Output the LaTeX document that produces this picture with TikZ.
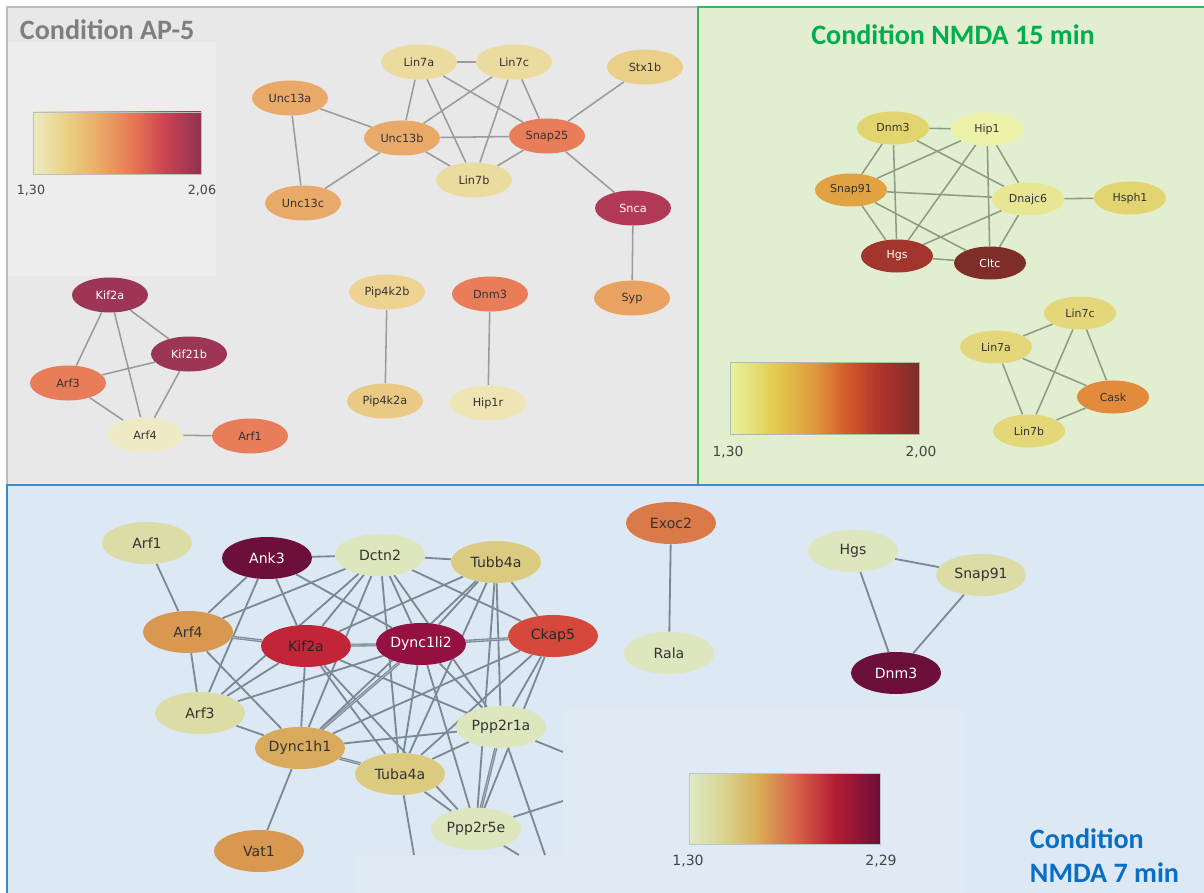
\documentclass[tikz,border=0pt]{standalone}
\usepackage{fontspec}
\setmainfont{DejaVu Sans}
\newfontfamily\titlefont{Carlito}
\usepackage{xcolor}
\usetikzlibrary{shapes.geometric}

% panel colours
\definecolor{apbg}{HTML}{E8E8E8}
\definecolor{apleg}{HTML}{EDEDED}
\definecolor{apframe}{HTML}{BDBDBD}
\definecolor{aptitle}{HTML}{7F7F7F}
\definecolor{apline}{HTML}{9B9B9B}
\definecolor{nfbg}{HTML}{E1EFD0}
\definecolor{nfframe}{HTML}{3DB35A}
\definecolor{nftitle}{HTML}{00AE4E}
\definecolor{nfline}{HTML}{8E9C84}
\definecolor{nsbg}{HTML}{DCE8F3}
\definecolor{nsleg}{HTML}{DFEAF4}
\definecolor{nsframe}{HTML}{3C89CC}
\definecolor{nstitle}{HTML}{0A6FC2}
\definecolor{nsline}{HTML}{7A8A95}
\definecolor{txtdark}{HTML}{333333}
\definecolor{txtlabel}{HTML}{444444}

% node colours
\definecolor{apPale}{HTML}{EEEAC6}
\definecolor{apHip}{HTML}{EFE4B3}
\definecolor{apLin}{HTML}{ECDB9F}
\definecolor{apStx}{HTML}{E9CF88}
\definecolor{apPipB}{HTML}{EDD292}
\definecolor{apPipA}{HTML}{E9C984}
\definecolor{apUnc}{HTML}{E9A968}
\definecolor{apSyp}{HTML}{E9A262}
\definecolor{apSalmon}{HTML}{E97C59}
\definecolor{apRose}{HTML}{B23A56}
\definecolor{apWine}{HTML}{9C3654}
\definecolor{nfYel}{HTML}{E2D46F}
\definecolor{nfLin}{HTML}{E3D77A}
\definecolor{nfHip}{HTML}{ECF2A7}
\definecolor{nfDna}{HTML}{E7E793}
\definecolor{nfSnap}{HTML}{E1A243}
\definecolor{nfCask}{HTML}{E38B3C}
\definecolor{nfHgs}{HTML}{A3352F}
\definecolor{nfCltc}{HTML}{7E2D29}
\definecolor{nsPale}{HTML}{DEE6BD}
\definecolor{nsCream}{HTML}{DCDCA7}
\definecolor{nsSand}{HTML}{DBCB80}
\definecolor{nsGold}{HTML}{D9AA5B}
\definecolor{nsOrange}{HTML}{D99850}
\definecolor{nsCoral}{HTML}{DB7A49}
\definecolor{nsRed}{HTML}{D5483B}
\definecolor{nsCrimson}{HTML}{C22538}
\definecolor{nsMaroon}{HTML}{941141}
\definecolor{nsPlum}{HTML}{6C0F3A}

% colour scales
\definecolor{apA}{HTML}{EDEBC3}\definecolor{apB}{HTML}{E8D185}\definecolor{apC}{HTML}{E9A966}
\definecolor{apD}{HTML}{E77553}\definecolor{apE}{HTML}{CC4452}\definecolor{apF}{HTML}{8E3252}
\definecolor{nfA}{HTML}{E8F2A4}\definecolor{nfB}{HTML}{E2CF52}\definecolor{nfC}{HTML}{E09A3C}
\definecolor{nfD}{HTML}{D35A2C}\definecolor{nfE}{HTML}{B0332A}\definecolor{nfF}{HTML}{7B2E2B}
\definecolor{nsA}{HTML}{DEE9C6}\definecolor{nsB}{HTML}{D9D392}\definecolor{nsC}{HTML}{D9AE57}
\definecolor{nsD}{HTML}{D9634A}\definecolor{nsE}{HTML}{B51D33}\definecolor{nsF}{HTML}{6C0F3A}

\pgfdeclarelayer{panels}
\pgfdeclarelayer{edges}
\pgfsetlayers{panels,edges,main}

\tikzset{
  apnode/.style={ellipse, inner sep=0pt, minimum width=19mm, minimum height=8.75mm,
    font=\fontsize{8}{9}\selectfont, text=txtdark},
  nfnode/.style={ellipse, inner sep=0pt, minimum width=18mm, minimum height=8.25mm,
    font=\fontsize{7.8}{9}\selectfont, text=txtdark},
  nsnode/.style={ellipse, inner sep=0pt, minimum width=22.5mm, minimum height=10.5mm,
    font=\fontsize{10}{12}\selectfont, text=txtdark},
  apedge/.style={draw=apline, line width=1.1pt},
  nfedge/.style={draw=nfline, line width=1.1pt},
  nsedge/.style={draw=nsline, line width=1.3pt},
  nsdouble/.style={draw=nsline, line width=0.8pt, double=nsline!60, double distance=0.6pt},
  title/.style={font=\titlefont\bfseries\fontsize{20}{24.2}\selectfont},
  barframe/.style={rectangle, inner sep=0pt, line width=0.6pt},
  barlabel/.style={text=txtlabel, inner sep=0pt},
}

\begin{document}
\begin{tikzpicture}[x=0.025cm, y=-0.025cm, line cap=round, line join=round]
\useasboundingbox (0,0) rectangle (1204,893);

% Panels
\begin{pgfonlayer}{panels}
  \fill[white] (0,0) rectangle (1204,893);
  \draw[draw=apframe, fill=apbg, line width=0.8pt] (7,7) rectangle (698,485);
  \fill[apleg] (8,42) rectangle (216,276);
  \draw[draw=nfframe, fill=nfbg, line width=1pt] (698,7) rectangle (1212,485);
  \draw[draw=nsframe, fill=nsbg, line width=1.2pt] (7,485) rectangle (1212,900);
  \fill[nsleg] (355,855) -- (563,855) -- (563,710) -- (965,710) -- (965,893) -- (355,893) -- cycle;
\end{pgfonlayer}

% Condition AP-5
\node[title, anchor=west, text=aptitle] (apTitle) at (15,30) {Condition AP-5};
\foreach \c/\d/\xa/\xb in {apA/apB/33/66.6, apB/apC/66.6/100.2, apC/apD/100.2/133.8,
    apD/apE/133.8/164, apE/apF/164/201}
  \shade[left color=\c, right color=\d] (\xa,112) rectangle (\xb,174);
\node[barframe, draw=apframe, minimum width=42mm, minimum height=15.5mm] (apBar) at (117,143) {};
\node[barlabel, font=\fontsize{9}{10}\selectfont] (apLow) at (31,191) {1,30};
\node[barlabel, font=\fontsize{9}{10}\selectfont] (apHigh) at (202,191) {2,06};

\node[apnode, fill=apUnc] (apUnc13a) at (290,98) {Unc13a};
\node[apnode, fill=apLin] (apLin7a) at (419,62) {Lin7a};
\node[apnode, fill=apLin] (apLin7c) at (514,62) {Lin7c};
\node[apnode, fill=apStx] (apStx1b) at (645,67) {Stx1b};
\node[apnode, fill=apUnc] (apUnc13b) at (402,138) {Unc13b};
\node[apnode, fill=apSalmon] (apSnap25) at (547,136) {Snap25};
\node[apnode, fill=apLin] (apLin7b) at (474,180) {Lin7b};
\node[apnode, fill=apUnc] (apUnc13c) at (303,203) {Unc13c};
\node[apnode, fill=apRose, text=white] (apSnca) at (633,208) {Snca};
\node[apnode, fill=apSyp] (apSyp) at (632,298) {Syp};
\node[apnode, fill=apWine, text=white] (apKif2a) at (110,295) {Kif2a};
\node[apnode, fill=apWine, text=white] (apKif21b) at (189,354) {Kif21b};
\node[apnode, fill=apSalmon] (apArf3) at (68,383) {Arf3};
\node[apnode, fill=apPale] (apArf4) at (145,435) {Arf4};
\node[apnode, fill=apSalmon] (apArf1) at (250,436) {Arf1};
\node[apnode, fill=apPipB] (apPip4k2b) at (387,292) {Pip4k2b};
\node[apnode, fill=apPipA] (apPip4k2a) at (385,401) {Pip4k2a};
\node[apnode, fill=apSalmon] (apDnm3) at (490,294) {Dnm3};
\node[apnode, fill=apHip] (apHip1r) at (488,403) {Hip1r};

\begin{pgfonlayer}{edges}
  \foreach \a/\b in {Lin7a/Lin7c, Lin7a/Unc13b, Lin7a/Lin7b, Lin7a/Snap25,
      Lin7c/Unc13b, Lin7c/Lin7b, Lin7c/Snap25, Unc13a/Unc13b, Unc13a/Unc13c,
      Unc13b/Unc13c, Unc13b/Snap25, Unc13b/Lin7b, Lin7b/Snap25, Snap25/Stx1b,
      Snap25/Snca, Snca/Syp, Kif2a/Kif21b, Kif2a/Arf3, Kif2a/Arf4, Kif21b/Arf3,
      Kif21b/Arf4, Arf3/Arf4, Arf4/Arf1, Pip4k2b/Pip4k2a, Dnm3/Hip1r}
    \draw[apedge] (ap\a) -- (ap\b);
\end{pgfonlayer}

% Condition NMDA 15 min
\node[title, text=nftitle] (nfTitle) at (953,35) {Condition NMDA 15 min};
\foreach \c/\d/\xa/\xb in {nfA/nfB/730/771.6, nfB/nfC/771.6/813.2, nfC/nfD/813.2/847.2,
    nfD/nfE/847.2/881.2, nfE/nfF/881.2/919}
  \shade[left color=\c, right color=\d] (\xa,362) rectangle (\xb,434);
\node[barframe, draw=nfline!70, minimum width=47.25mm, minimum height=18mm] (nfBar) at (824.5,398) {};
\node[barlabel, font=\fontsize{9.8}{11}\selectfont] (nfLow) at (728,452) {1,30};
\node[barlabel, font=\fontsize{9.8}{11}\selectfont] (nfHigh) at (921,452) {2,00};

\node[nfnode, fill=nfYel] (nfDnm3) at (893,128) {Dnm3};
\node[nfnode, fill=nfHip] (nfHip1) at (987,129) {Hip1};
\node[nfnode, fill=nfSnap] (nfSnap91) at (851,190) {Snap91};
\node[nfnode, fill=nfDna] (nfDnajc6) at (1028,199) {Dnajc6};
\node[nfnode, fill=nfYel] (nfHsph1) at (1130,198) {Hsph1};
\node[nfnode, fill=nfHgs, text=white] (nfHgs) at (897,256) {Hgs};
\node[nfnode, fill=nfCltc, text=white] (nfCltc) at (990,263) {Cltc};
\node[nfnode, fill=nfLin] (nfLin7c) at (1080,313) {Lin7c};
\node[nfnode, fill=nfLin] (nfLin7a) at (996,347) {Lin7a};
\node[nfnode, fill=nfCask] (nfCask) at (1113,397) {Cask};
\node[nfnode, fill=nfLin] (nfLin7b) at (1029,431) {Lin7b};

\begin{pgfonlayer}{edges}
  \foreach \a/\b in {Dnm3/Hip1, Dnm3/Snap91, Dnm3/Hgs, Dnm3/Dnajc6, Hip1/Snap91,
      Hip1/Hgs, Hip1/Cltc, Hip1/Dnajc6, Snap91/Dnajc6, Snap91/Hgs, Snap91/Cltc,
      Dnajc6/Hgs, Dnajc6/Cltc, Dnajc6/Hsph1, Hgs/Cltc, Lin7c/Lin7a, Lin7c/Lin7b,
      Lin7c/Cask, Lin7a/Lin7b, Lin7a/Cask, Cask/Lin7b}
    \draw[nfedge] (nf\a) -- (nf\b);
\end{pgfonlayer}

% Condition NMDA 7 min
\node[title, anchor=west, align=left, text=nstitle] (nsTitle) at (1025,856) {Condition\\NMDA 7 min};
\foreach \c/\d/\xa/\xb in {nsA/nsB/689/723.4, nsB/nsC/723.4/757.8, nsC/nsD/757.8/796,
    nsD/nsE/796/834.2, nsE/nsF/834.2/880}
  \shade[left color=\c, right color=\d] (\xa,773) rectangle (\xb,844);
\node[barframe, draw=nsline!50, minimum width=47.75mm, minimum height=17.75mm] (nsBar) at (784.5,808.5) {};
\node[barlabel, font=\fontsize{10}{12}\selectfont] (nsLow) at (688,861) {1,30};
\node[barlabel, font=\fontsize{10}{12}\selectfont] (nsHigh) at (881,861) {2,29};

\node[nsnode, fill=nsCream] (nsArf1) at (147,543) {Arf1};
\node[nsnode, fill=nsPlum, text=white] (nsAnk3) at (267,558) {Ank3};
\node[nsnode, fill=nsPale] (nsDctn2) at (380,555) {Dctn2};
\node[nsnode, fill=nsSand] (nsTubb4a) at (496,562) {Tubb4a};
\node[nsnode, fill=nsOrange] (nsArf4) at (188,632) {Arf4};
\node[nsnode, fill=nsCrimson, text=black!85] (nsKif2a) at (306,646) {Kif2a};
\node[nsnode, fill=nsMaroon, text=white] (nsDync1li2) at (421,644) {Dync1li2};
\node[nsnode, fill=nsRed, text=black!85] (nsCkap5) at (553,636) {Ckap5};
\node[nsnode, fill=nsCream] (nsArf3) at (200,713) {Arf3};
\node[nsnode, fill=nsGold] (nsDync1h1) at (300,748) {Dync1h1};
\node[nsnode, fill=nsPale] (nsPpp2r1a) at (501,727) {Ppp2r1a};
\node[nsnode, fill=nsSand] (nsTuba4a) at (400,774) {Tuba4a};
\node[nsnode, fill=nsPale] (nsPpp2r5e) at (476,829) {Ppp2r5e};
\node[nsnode, fill=nsOrange] (nsVat1) at (259,851) {Vat1};
\node[nsnode, fill=nsCoral] (nsExoc2) at (671,523) {Exoc2};
\node[nsnode, fill=nsPale] (nsRala) at (669,653) {Rala};
\node[nsnode, fill=nsPale] (nsHgs) at (853,551) {Hgs};
\node[nsnode, fill=nsCream] (nsSnap91) at (981,575) {Snap91};
\node[nsnode, fill=nsPlum, text=white] (nsDnm3) at (896,673) {Dnm3};

% edges leaving the cropped network
\coordinate (nsCutA) at (563,752);
\coordinate (nsCutB) at (563,801);
\coordinate (nsCutC) at (519,855);
\coordinate (nsCutD) at (414,855);
\coordinate (nsCutE) at (545,855);

\begin{pgfonlayer}{edges}
  \foreach \a/\b in {Arf1/Arf4, Ank3/Dctn2, Dctn2/Tubb4a, Ank3/Arf4, Ank3/Arf3,
      Ank3/Kif2a, Ank3/Dync1li2, Arf4/Arf3, Arf4/Dync1h1, Arf4/Dctn2, Kif2a/Arf3,
      Kif2a/Dync1h1, Kif2a/Tuba4a, Kif2a/Ppp2r1a, Kif2a/Ppp2r5e, Dync1li2/Arf3,
      Dync1li2/Tuba4a, Dync1li2/Ppp2r1a, Dync1li2/Ppp2r5e, Dctn2/Arf3, Dctn2/Kif2a,
      Dctn2/Dync1h1, Dctn2/Dync1li2, Dctn2/Tuba4a, Dctn2/Ppp2r1a, Dctn2/Ckap5,
      Tubb4a/Kif2a, Tubb4a/Dync1li2, Tubb4a/Dync1h1, Tubb4a/Ckap5, Tubb4a/Ppp2r1a,
      Tubb4a/Ppp2r5e, Tubb4a/Tuba4a, Ckap5/Dync1h1, Ckap5/Ppp2r1a, Ckap5/Ppp2r5e,
      Ckap5/Tuba4a, Arf3/Dync1h1, Dync1h1/Ppp2r1a, Dync1h1/Vat1, Tuba4a/Ppp2r1a,
      Tuba4a/Ppp2r5e, Exoc2/Rala, Hgs/Snap91, Hgs/Dnm3, Snap91/Dnm3}
    \draw[nsedge] (ns\a) -- (ns\b);
  \foreach \a/\b in {Arf4/Kif2a, Kif2a/Dync1li2, Dync1li2/Ckap5, Dync1li2/Dync1h1,
      Dync1h1/Tuba4a, Ppp2r1a/Ppp2r5e}
    \draw[nsdouble] (ns\a) -- (ns\b);
  \draw[nsedge] (nsPpp2r1a) -- (nsCutA);
  \draw[nsedge] (nsPpp2r5e) -- (nsCutB);
  \draw[nsedge] (nsPpp2r5e) -- (nsCutC);
  \draw[nsedge] (nsTuba4a) -- (nsCutD);
  \draw[nsedge] (nsPpp2r1a) -- (nsCutE);
\end{pgfonlayer}
\end{tikzpicture}
\end{document}
